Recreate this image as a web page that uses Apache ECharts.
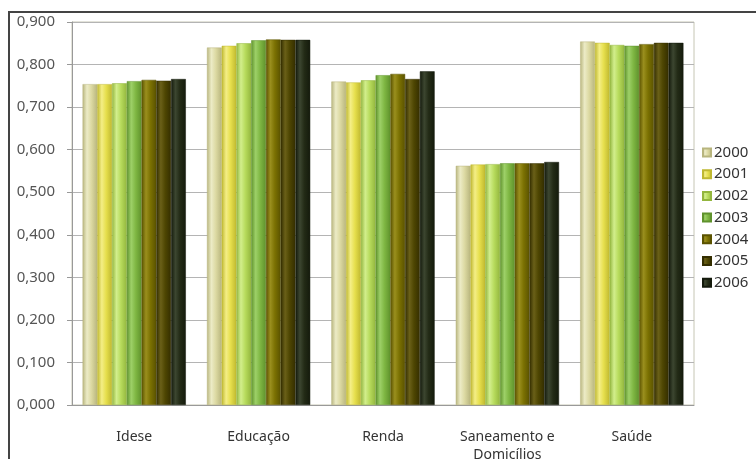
<!DOCTYPE html>
<html>
<head>
<meta charset="utf-8">
<script src="https://cdn.jsdelivr.net/npm/echarts@6/dist/echarts.min.js"></script>
<style>html,body{margin:0;padding:0;background:#fff}#c{width:756px;height:459px}</style>
</head>
<body>
<div id="c"></div>
<script>
const categories = ['Idese', 'Educação', 'Renda', 'Saneamento e\nDomicílios', 'Saúde'];
const years = ['2000', '2001', '2002', '2003', '2004', '2005', '2006'];
const v2000 = [0.754, 0.840, 0.760, 0.562, 0.854];
const v2001 = [0.754, 0.844, 0.758, 0.565, 0.851];
const v2002 = [0.756, 0.850, 0.763, 0.566, 0.846];
const v2003 = [0.761, 0.857, 0.775, 0.568, 0.844];
const v2004 = [0.764, 0.859, 0.778, 0.568, 0.848];
const v2005 = [0.762, 0.858, 0.766, 0.568, 0.851];
const v2006 = [0.766, 0.858, 0.784, 0.571, 0.851];
const seriesValues = [v2000, v2001, v2002, v2003, v2004, v2005, v2006];
const yTicks = [0, 0.1, 0.2, 0.3, 0.4, 0.5, 0.6, 0.7, 0.8, 0.9];

const baseColors = ['#dcd9a2', '#e6df4c', '#b7db5c', '#7fb743', '#7b7102', '#4e4602', '#232b16'];
const lightColors = ['#ecebc6', '#f4ee86', '#d2ee8c', '#9dd068', '#9a8f1e', '#6a6018', '#3c4630'];
const darkColors = ['#b8b57e', '#bfb830', '#93b63e', '#5f922c', '#5a5200', '#342e00', '#141a0c'];

const chart = echarts.init(document.getElementById('c'), null, {renderer: 'canvas'});
const FONT = 'Noto Sans';

const series = years.map((y, i) => ({
  name: y,
  type: 'bar',
  data: seriesValues[i],
  barGap: '0%',
  barCategoryGap: '17%',
  itemStyle: {
    color: new echarts.graphic.LinearGradient(0, 0, 1, 0, [
      {offset: 0, color: darkColors[i]},
      {offset: 0.3, color: lightColors[i]},
      {offset: 0.6, color: baseColors[i]},
      {offset: 1, color: darkColors[i]}
    ]),
    borderColor: darkColors[i],
    borderWidth: 0.5
  },
  emphasis: {disabled: true}
}));

chart.setOption({
  animation: false,
  backgroundColor: '#fff',
  color: baseColors,
  graphic: [{
    type: 'rect',
    shape: {x: 9, y: 12, width: 800, height: 500},
    style: {fill: 'none', stroke: '#444', lineWidth: 2},
    silent: true,
    z: 100
  }],
  grid: {left: 72, right: 62, top: 22, bottom: 54, show: true, borderColor: '#c6c6b4', borderWidth: 1, containLabel: false, outerBoundsMode: 'none'},
  legend: {
    orient: 'vertical',
    left: 697,
    top: 140,
    itemWidth: 8,
    itemHeight: 8,
    itemGap: 6.7,
    icon: 'rect',
    data: years,
    textStyle: {fontFamily: FONT, fontSize: 15, color: '#333', padding: [0, 0, 0, -2]}
  },
  xAxis: {
    type: 'category',
    data: categories,
    axisLine: {lineStyle: {color: '#999'}},
    axisTick: {show: false},
    axisLabel: {fontFamily: FONT, fontSize: 14, color: '#333', margin: 23, lineHeight: 18}
  },
  yAxis: {
    type: 'value',
    min: 0,
    max: 0.9,
    interval: 0.1,
    axisLine: {show: true, lineStyle: {color: '#999'}},
    axisTick: {show: true, length: 5, lineStyle: {color: '#999'}},
    splitLine: {lineStyle: {color: '#b4b4b4'}},
    axisLabel: {
      fontFamily: FONT, fontSize: 15, color: '#555', margin: 17,
      formatter: v => {
        const t = yTicks.find(x => Math.abs(x - v) < 1e-9);
        return (t !== undefined ? t : v).toFixed(3).replace('.', ',');
      }
    }
  },
  series: series
});
</script>
</body>
</html>
